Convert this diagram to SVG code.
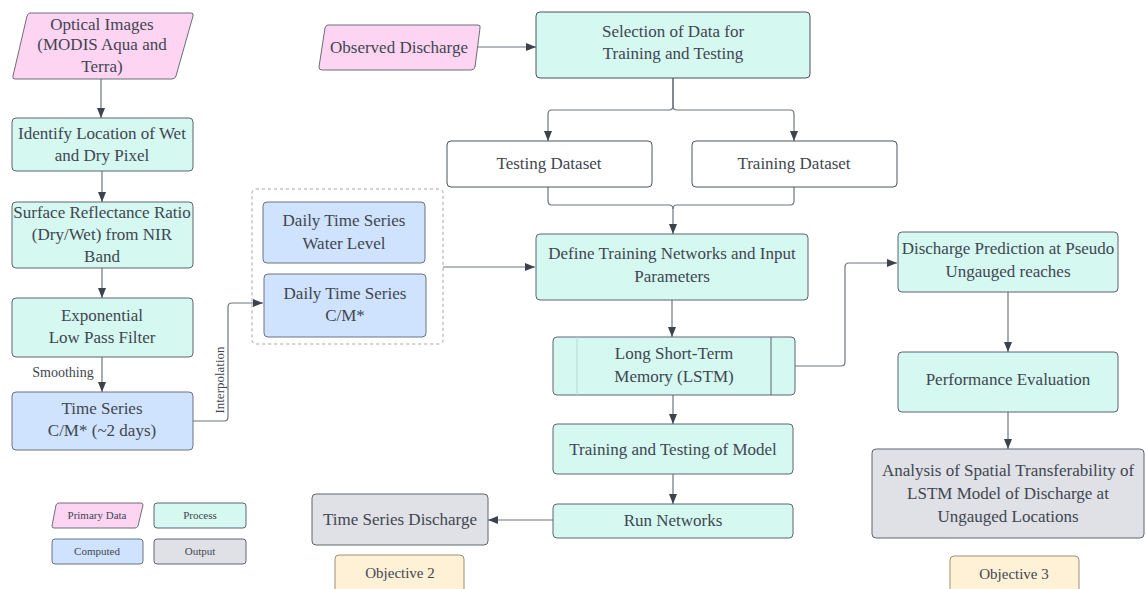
<svg xmlns="http://www.w3.org/2000/svg" width="1146" height="589" viewBox="0 0 1146 589">
<defs>
<marker id="ah" viewBox="0 0 10 10" refX="10" refY="5" markerWidth="10" markerHeight="10" markerUnits="userSpaceOnUse" orient="auto">
<path d="M0,1 L10,5 L0,9 Z" fill="#3d434c"/>
</marker>
<style>
text{font-family:"Liberation Serif","Times New Roman",serif;fill:#3f4650;text-anchor:middle}
.t{font-size:17px}
.s{font-size:11px}
.pink{fill:#fed4f3;stroke:#6a6f78;stroke-width:1}
.proc{fill:#d5f8f1;stroke:#5e6570;stroke-width:1}
.comp{fill:#cfe3fe;stroke:#6a7380;stroke-width:1}
.out{fill:#dfe1e6;stroke:#5e6570;stroke-width:1}
.obj{fill:#fff1d6;stroke:#9a8f7a;stroke-width:1}
.plain{fill:#ffffff;stroke:#4d535c;stroke-width:1}
.c{fill:none;stroke:#6f747c;stroke-width:1.2;marker-end:url(#ah)}
.cn{fill:none;stroke:#6f747c;stroke-width:1.2}
</style>
</defs>
<g id="connectors">
<path class="c" d="M101,79 V118"/>
<path class="c" d="M102,171 V202"/>
<path class="c" d="M102,268 V298"/>
<path class="c" d="M102,357 V392"/>
<path class="c" d="M193,421 H224 Q228,421 228,417 V307 Q228,303 232,303 H263"/>
<path class="c" d="M443,267 H535"/>
<path class="c" d="M475,47 H536"/>
<path class="c" d="M673,78 V106 Q673,110 669,110 H552 Q548,110 548,114 V141"/>
<path class="c" d="M673,78 V106 Q673,110 677,110 H790 Q794,110 794,114 V141"/>
<path class="cn" d="M548,187 V201 Q548,205 552,205 H669 Q673,205 673,209"/>
<path class="c" d="M794,187 V201 Q794,205 790,205 H677 Q673,205 673,209 V234"/>
<path class="c" d="M672,300 V337"/>
<path class="c" d="M673,395 V424"/>
<path class="c" d="M673,474 V504"/>
<path class="c" d="M553,520 H488"/>
<path class="c" d="M795,366 H841 Q845,366 845,362 V267 Q845,263 849,263 H897"/>
<path class="c" d="M1008,292 V352"/>
<path class="c" d="M1008,412 V449"/>
</g>
<g id="optical-images">
<path class="pink" d="M30,13 H191 Q194,13 193,16 L176,76 Q175,79 172,79 H15 Q12,79 13,76 L27,16 Q28,13 30,13 Z"/>
<text class="t" x="102" y="30">Optical Images</text>
<text class="t" x="102" y="50">(MODIS Aqua and</text>
<text class="t" x="102" y="72">Terra)</text>
</g>
<g id="identify">
<rect class="proc" x="12" y="118" width="181" height="53" rx="4"/>
<text class="t" x="102" y="139">Identify Location of Wet</text>
<text class="t" x="102" y="161">and Dry Pixel</text>
</g>
<g id="surface">
<rect class="proc" x="12" y="202" width="181" height="66" rx="4"/>
<text class="t" x="102" y="218">Surface Reflectance Ratio</text>
<text class="t" x="102" y="240">(Dry/Wet) from NIR</text>
<text class="t" x="102" y="262">Band</text>
</g>
<g id="exponential">
<rect class="proc" x="12" y="298" width="181" height="59" rx="4"/>
<text class="t" x="102" y="321">Exponential</text>
<text class="t" x="102" y="343">Low Pass Filter</text>
</g>
<g id="smoothing-label">
<text x="63" y="377" style="font-size:14px">Smoothing</text>
</g>
<g id="time-series">
<rect class="comp" x="12" y="392" width="181" height="58" rx="4"/>
<text class="t" x="102" y="414">Time Series</text>
<text class="t" x="102" y="436">C/M* (~2 days)</text>
</g>
<g id="interpolation-label">
<text x="0" y="0" style="font-size:13px" transform="translate(224,380) rotate(-90)">Interpolation</text>
</g>
<g id="daily-group">
<rect x="252" y="189" width="191" height="155" rx="4" fill="none" stroke="#9ea3aa" stroke-width="1" stroke-dasharray="3,3"/>
</g>
<g id="daily-wl">
<rect class="comp" x="263" y="202" width="162" height="61" rx="4"/>
<text class="t" x="344" y="226">Daily Time Series</text>
<text class="t" x="344" y="249">Water Level</text>
</g>
<g id="daily-cm">
<rect class="comp" x="264" y="274" width="162" height="63" rx="4"/>
<text class="t" x="345" y="299">Daily Time Series</text>
<text class="t" x="345" y="321">C/M*</text>
</g>
<g id="observed">
<path class="pink" d="M328,25 H478 Q481,25 480,28 L475,67 Q474,70 471,70 H322 Q319,70 319,67 L325,28 Q326,25 328,25 Z"/>
<text class="t" x="399" y="53">Observed Discharge</text>
</g>
<g id="selection">
<rect class="proc" x="536" y="12" width="274" height="66" rx="4" style="stroke:#4d535c"/>
<text class="t" x="673" y="37">Selection of Data for</text>
<text class="t" x="673" y="59">Training and Testing</text>
</g>
<g id="testing-dataset">
<rect class="plain" x="447" y="141" width="205" height="46" rx="4"/>
<text class="t" x="549" y="169">Testing Dataset</text>
</g>
<g id="training-dataset">
<rect class="plain" x="692" y="141" width="205" height="46" rx="4"/>
<text class="t" x="794" y="169">Training Dataset</text>
</g>
<g id="define">
<rect class="proc" x="536" y="234" width="272" height="66" rx="4"/>
<text class="t" x="672" y="259">Define Training Networks and Input</text>
<text class="t" x="672" y="282">Parameters</text>
</g>
<g id="lstm">
<rect class="proc" x="553" y="337" width="242" height="58" rx="4"/>
<line x1="577" y1="337" x2="577" y2="395" stroke="#b9d9d3" stroke-width="1"/>
<line x1="771" y1="337" x2="771" y2="395" stroke="#5e6570" stroke-width="1"/>
<text class="t" x="674" y="359">Long Short-Term</text>
<text class="t" x="674" y="382">Memory (LSTM)</text>
</g>
<g id="train-test-model">
<rect class="proc" x="553" y="424" width="240" height="50" rx="4"/>
<text class="t" x="673" y="455">Training and Testing of Model</text>
</g>
<g id="run-networks">
<rect class="proc" x="553" y="504" width="240" height="34" rx="4"/>
<text class="t" x="673" y="526">Run Networks</text>
</g>
<g id="ts-discharge">
<rect class="out" x="312" y="494" width="176" height="51" rx="4"/>
<text class="t" x="400" y="525">Time Series Discharge</text>
</g>
<g id="objective-2">
<rect class="obj" x="335" y="555" width="129" height="40" rx="4"/>
<text x="400" y="578" style="font-size:15px">Objective 2</text>
</g>
<g id="discharge-prediction">
<rect class="proc" x="898" y="232" width="220" height="60" rx="4"/>
<text class="t" x="1008" y="254">Discharge Prediction at Pseudo</text>
<text class="t" x="1008" y="277">Ungauged reaches</text>
</g>
<g id="performance">
<rect class="proc" x="898" y="352" width="220" height="60" rx="4"/>
<text class="t" x="1008" y="385">Performance Evaluation</text>
</g>
<g id="analysis">
<rect class="out" x="872" y="449" width="272" height="89" rx="4"/>
<text class="t" x="1008" y="476">Analysis of Spatial Transferability of</text>
<text class="t" x="1008" y="499">LSTM Model of Discharge at</text>
<text class="t" x="1008" y="522">Ungauged Locations</text>
</g>
<g id="objective-3">
<rect class="obj" x="950" y="556" width="129" height="40" rx="4"/>
<text x="1014" y="579" style="font-size:15px">Objective 3</text>
</g>
<g id="legend-primary">
<path class="pink" d="M59,503 H141 Q143,503 143,505 L138,526 Q137,528 135,528 H54 Q52,528 52,526 L56,505 Q57,503 59,503 Z"/>
<text class="s" x="97" y="519">Primary Data</text>
</g>
<g id="legend-process">
<rect class="proc" x="154" y="503" width="92" height="25" rx="3"/>
<text class="s" x="200" y="519">Process</text>
</g>
<g id="legend-computed">
<rect class="comp" x="52" y="539" width="91" height="25" rx="3"/>
<text class="s" x="97" y="555">Computed</text>
</g>
<g id="legend-output">
<rect class="out" x="154" y="539" width="92" height="25" rx="3"/>
<text class="s" x="200" y="555">Output</text>
</g>
</svg>
